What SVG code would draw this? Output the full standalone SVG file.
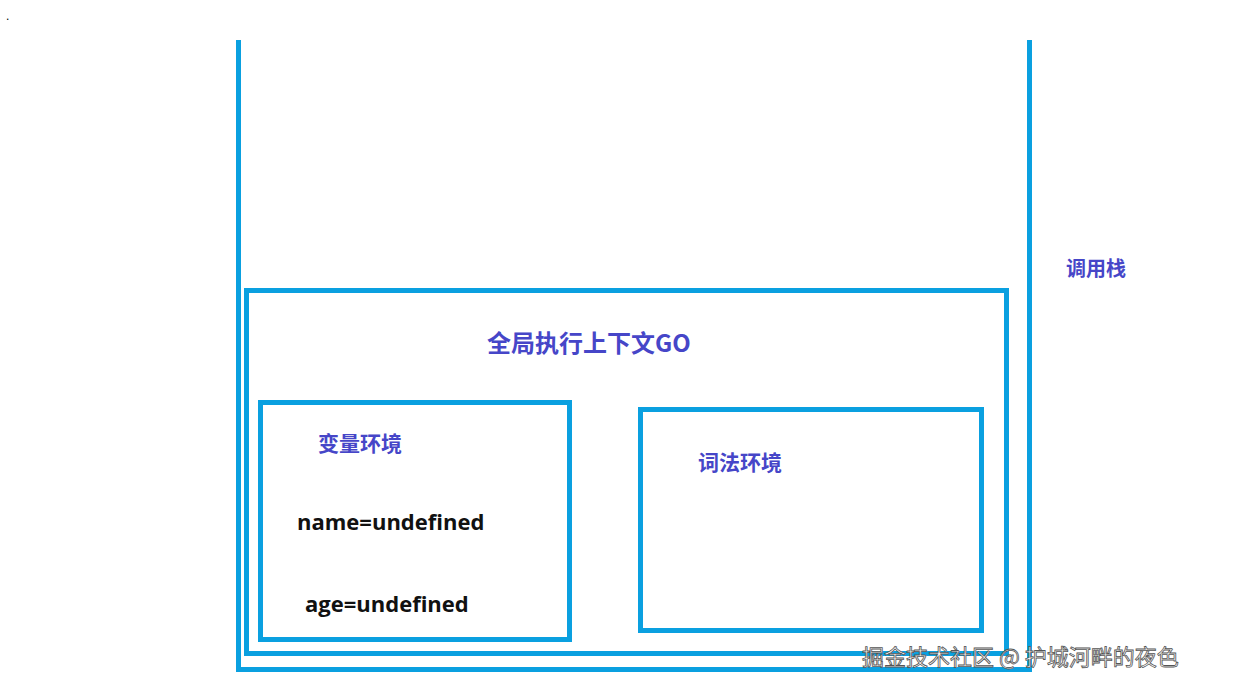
<svg xmlns="http://www.w3.org/2000/svg" width="1242" height="691" viewBox="0 0 1242 691">
<style>
.b{fill:none;stroke:#0aa0e0;stroke-width:5}
.t{font-family:"Noto Sans CJK SC",sans-serif;font-weight:bold;fill:#4646c8}
.k{font-family:"Open Sans","Noto Sans CJK SC",sans-serif;font-weight:bold;fill:#111;font-size:22px}
</style>
<rect width="1242" height="691" fill="#fff"/>
<text x="6" y="20" font-family="Liberation Sans,sans-serif" font-size="12">.</text>
<g id="callstack">
<path class="b" d="M238.5,40 V669.5 H1029.5 V40"/>
<text class="t" x="1066" y="276" font-size="20">调用栈</text>
</g>
<g id="go">
<rect class="b" x="246.5" y="290.5" width="760" height="363"/>
<text class="t" x="487" y="352" font-size="24">全局执行上下文GO</text>
</g>
<g id="varenv">
<rect class="b" x="260.5" y="402.5" width="309" height="237"/>
<text class="t" x="318" y="451" font-size="21">变量环境</text>
<text class="k" x="297" y="530">name=undefined</text>
<text class="k" x="305" y="612">age=undefined</text>
</g>
<g id="lexenv">
<rect class="b" x="640.5" y="409.5" width="341" height="221"/>
<text class="t" x="698" y="470" font-size="21">词法环境</text>
</g>
<g id="connectors"></g>
<text x="862" y="665" font-family="Noto Sans CJK SC,sans-serif" font-size="22" fill="#fff" stroke="#555" stroke-width="0.8">掘金技术社区 @ 护城河畔的夜色</text>
</svg>
